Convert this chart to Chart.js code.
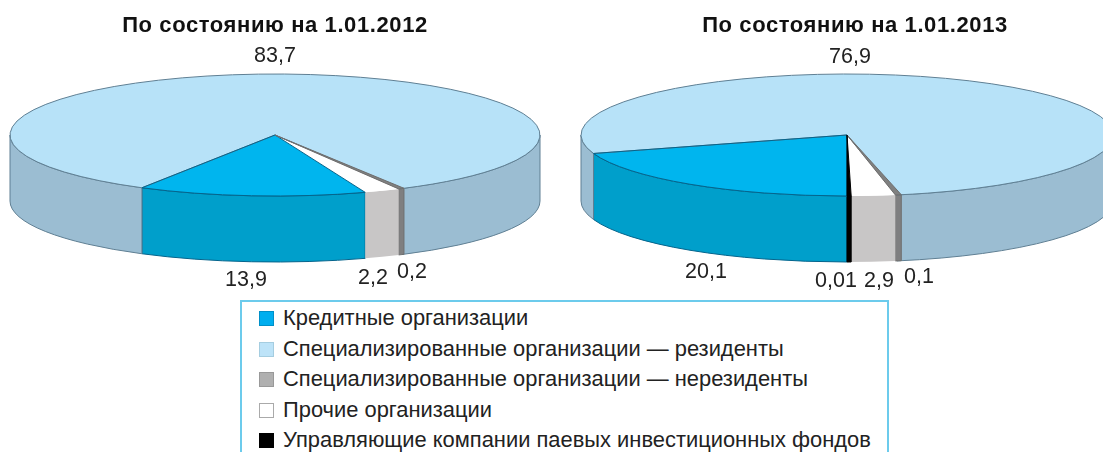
<!DOCTYPE html>
<html lang="ru">
<head>
<meta charset="utf-8">
<title>Структура по состоянию на 1.01.2012 и 1.01.2013</title>
<script src="https://cdn.jsdelivr.net/npm/chart.js@4"></script>
<style>
    html, body { margin: 0; padding: 0; background: #fff; }
    body { position: relative; width: 1103px; height: 452px; overflow: hidden; font-family: "Liberation Sans", Arial, sans-serif; filter: blur(0.4px); }
    canvas { position: absolute; top: 0; }
    #chart-2012 { left: 0; }
    #chart-2013 { left: 560px; }
    #legend { position: absolute; left: 240px; top: 300px; width: 645px; height: 170px; border: 2px solid #6ccbec; box-sizing: content-box; }
    #legend div { position: absolute; left: 17px; height: 30px; line-height: 30px; font-size: 21.9px; color: #222; white-space: nowrap; }
    #legend i { position: absolute; left: 0; top: 8px; width: 15px; height: 15px; box-sizing: border-box; }
    #legend span { margin-left: 24px; }
</style>
</head>
<body>
<canvas id="chart-2012" width="550" height="300"></canvas>
<canvas id="chart-2013" width="590" height="300"></canvas>
<div id="legend"></div>
<script>
const categories = [
    'Кредитные организации',
    'Специализированные организации — резиденты',
    'Специализированные организации — нерезиденты',
    'Прочие организации',
    'Управляющие компании паевых инвестиционных фондов'
];
const values2012 = [13.9, 83.7, 0.2, 2.2, 0];
const values2013 = [20.1, 76.9, 0.1, 2.9, 0.01];

const topColors = ['#00b5ee', '#b7e2f8', '#808080', '#ffffff', '#000000'];
const sideColors = ['#009fcb', '#9bbdd2', '#7f7f80', '#c8c6c6', '#000000'];
const edgeColors = ['#04648c', '#5f7f93', '#6e6e6e', null, '#000000'];
const legendColors = ['#00aeef', '#bde3f8', '#b0b0b0', '#ffffff', '#000000'];
const legendBorders = ['#0090c8', '#a5cde0', '#999999', '#aaaaaa', '#000000'];
// very thin slices would vanish, so they get a visible minimum width (degrees)
const minSweep = [0, 0, 1.3, 0, 0.9];

const rad = d => d * Math.PI / 180;

const getSweep = (arc, i) => {
    const wanted = rad(minSweep[i]);
    const sweep = arc.endAngle - arc.startAngle;
    return { start: sweep < wanted ? arc.endAngle - wanted : arc.startAngle, end: arc.endAngle };
};

const wedgePath = (ctx, o, s) => {
    ctx.beginPath();
    ctx.moveTo(o.cx, o.cy);
    ctx.ellipse(o.cx, o.cy, o.rx, o.ry, 0, s.start, s.end);
    ctx.closePath();
};

const drawSides = (chart, o) => {
    const ctx = chart.ctx;
    const arcs = chart.getDatasetMeta(0).data;
    arcs.forEach((arc, i) => {
        if (!chart.data.datasets[0].data[i]) return;
        const s = getSweep(arc, i);
        for (let k = -1; k < 3; k++) {
            const a = Math.max(s.start, 2 * Math.PI * k);
            const b = Math.min(s.end, 2 * Math.PI * k + Math.PI);
            if (a >= b) continue;
            ctx.beginPath();
            ctx.ellipse(o.cx, o.cy, o.rx, o.ry, 0, a, b);
            ctx.ellipse(o.cx, o.cy + o.depth, o.rx, o.ry, 0, b, a, true);
            ctx.closePath();
            ctx.fillStyle = sideColors[i];
            ctx.fill();
            if (edgeColors[i]) {
                ctx.strokeStyle = edgeColors[i];
                ctx.lineWidth = 1;
                ctx.stroke();
            }
        }
    });
};

const drawSlivers = (chart, o) => {
    const ctx = chart.ctx;
    const arcs = chart.getDatasetMeta(0).data;
    const order = arcs.map((a, i) => i).sort((p, q) =>
        (arcs[q].endAngle - arcs[q].startAngle) - (arcs[p].endAngle - arcs[p].startAngle));
    order.forEach(i => {
        if (!chart.data.datasets[0].data[i]) return;
        const s = getSweep(arcs[i], i);
        wedgePath(ctx, o, s);
        if (minSweep[i]) {
            ctx.fillStyle = topColors[i];
            ctx.fill();
        }
        if (edgeColors[i]) {
            ctx.strokeStyle = edgeColors[i];
            ctx.lineWidth = 1;
            ctx.stroke();
        }
    });
};

// Chart.js only has flat pies: squash them and add the rim
const tiltedPie = {
    id: 'tiltedPie',
    beforeDraw(chart) {
        chart.ctx.letterSpacing = '0.6px'; // the title is tracked out
    },
    beforeDatasetDraw(chart, args, opts) {
        const ctx = chart.ctx;
        const arc = chart.getDatasetMeta(0).data[0];
        ctx.letterSpacing = '0px';
        drawSides(chart, opts);
        ctx.save();
        ctx.translate(opts.cx, opts.cy);
        ctx.scale(opts.rx / arc.outerRadius, opts.ry / arc.outerRadius);
        ctx.translate(-arc.x, -arc.y);
    },
    afterDatasetDraw(chart, args, opts) {
        chart.ctx.restore();
        drawSlivers(chart, opts);
    },
    afterDraw(chart, args, opts) {
        const ctx = chart.ctx;
        const values = chart.data.datasets[0].data;
        ctx.save();
        ctx.font = '21.5px "Liberation Sans"';
        ctx.fillStyle = '#222';
        ctx.textAlign = 'center';
        ctx.textBaseline = 'middle';
        values.forEach((v, i) => {
            if (!v) return;
            ctx.fillText(String(v).replace('.', ','), opts.spots[i][0], opts.spots[i][1]);
        });
        ctx.restore();
    }
};

const makePie = (id, title, values, rotation, opts) => new Chart(document.getElementById(id), {
    type: 'pie',
    data: {
        labels: categories,
        datasets: [{ data: values, backgroundColor: topColors, borderWidth: 0, clip: false }]
    },
    options: {
        responsive: false,
        animation: false,
        rotation,
        plugins: {
            legend: { display: false },
            tooltip: { enabled: false },
            title: {
                display: true,
                text: title,
                color: '#111',
                font: { family: '"Liberation Sans"', size: 22, weight: 'bold' },
                padding: { top: 13, bottom: 10 }
            },
            tiltedPie: opts
        }
    },
    plugins: [tiltedPie]
});

makePie('chart-2012', 'По состоянию на 1.01.2012', values2012, 160.1, {
    cx: 275, cy: 135, rx: 265, ry: 61, depth: 66,
    spots: [[246, 280], [275, 56], [412, 272], [373, 278], [0, 0]]
});

makePie('chart-2013', 'По состоянию на 1.01.2013', values2013, 180, {
    cx: 287, cy: 135, rx: 266, ry: 61, depth: 66,
    spots: [[146, 272], [290, 57], [359, 277], [319, 281], [276, 281]]
});

const legend = document.getElementById('legend');
categories.forEach((name, i) => {
    const row = document.createElement('div');
    row.style.top = (1 + i * 30.5) + 'px';
    const box = document.createElement('i');
    box.style.background = legendColors[i];
    box.style.border = '1px solid ' + legendBorders[i];
    const text = document.createElement('span');
    text.textContent = name;
    row.append(box, text);
    legend.appendChild(row);
});
</script>
</body>
</html>
